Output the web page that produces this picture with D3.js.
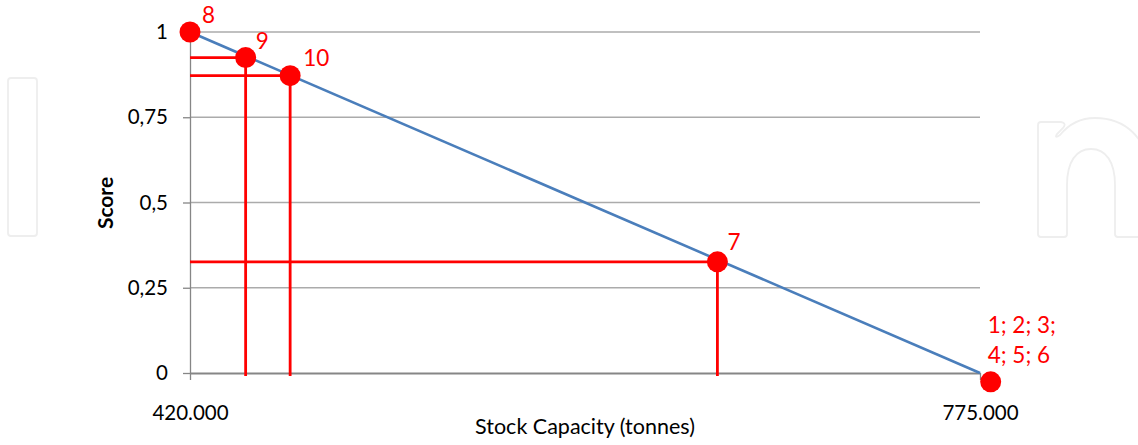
<!DOCTYPE html>
<html>
<head>
<meta charset="utf-8">
<script src="https://cdn.jsdelivr.net/npm/d3@7"></script>
<style>
  body { margin: 0; background: #fff; }
  text { font-family: Lato, "Open Sans", sans-serif; }
</style>
</head>
<body>
<svg id="chart"></svg>
<script>
// values
var capacity = [420000, 445000, 465000, 657000, 779800];
var scores = [1, 0.925, 0.872, 0.326, -0.026];
var pointLabels = [["8"], ["9"], ["10"], ["7"], ["1; 2; 3;", "4; 5; 6"]];
var labelOffsets = [[12, -9], [10, -9], [13, -10], [10, -12], [-3, -49]];
var dropLines = [false, true, true, true, false];

var lineX = [420000, 775000];
var lineY = [1, 0];

var yTicks = [0, 0.25, 0.5, 0.75, 1];
var yTickLabels = ["0", "0,25", "0,5", "0,75", "1"];
var xTicks = [420000, 775000];
var xTickLabels = ["420.000", "775.000"];

var width = 1138;
var height = 445;

var svg = d3.select("#chart").attr("width", width).attr("height", height);

var x = d3.scaleLinear().domain([420000, 775000]).range([190, 980]);
var y = d3.scaleLinear().domain([0, 1]).range([373, 32]);

// faint watermark letters behind the chart
var nPath = "M1041,122 L1061,122 Q1067,123 1063,128 L1057,134 Q1054,139 1060,135 " +
    "C1069,124 1080,118 1095,118 C1125,118 1148,138 1148,172 L1148,237 L1118,237 " +
    "Q1115,237 1115,234 L1115,185 C1115,162 1106,149 1091,149 C1076,149 1067,162 1067,185 " +
    "L1067,234 Q1067,237 1064,237 L1041,237 Q1038,237 1038,234 L1038,125 Q1038,122 1041,122 Z";
var wm = svg.append("g").attr("fill", "none").attr("stroke", "#eeeeee").attr("stroke-width", 1.8);
svg.append("defs").append("clipPath").attr("id", "leftclip")
    .append("rect").attr("x", 0).attr("y", 0).attr("width", 72).attr("height", height);
wm.append("rect").attr("x", 8).attr("y", 78).attr("width", 29).attr("height", 158).attr("rx", 3);
wm.append("path").attr("d", nPath).attr("transform", "translate(-984,0)").attr("clip-path", "url(#leftclip)");
wm.append("path").attr("d", nPath);

// gridlines
svg.append("g")
    .selectAll("line")
    .data(yTicks.filter(function(d) { return d > 0; }))
    .enter().append("line")
    .attr("x1", x(420000)).attr("x2", x(775000))
    .attr("y1", function(d) { return y(d); })
    .attr("y2", function(d) { return y(d); })
    .attr("stroke", "#ababab")
    .attr("stroke-width", 1.3);

// y axis
var yAxis = d3.axisLeft(y)
    .tickValues(yTicks)
    .tickFormat(function(d, i) { return yTickLabels[i]; })
    .tickSizeInner(7).tickSizeOuter(0).tickPadding(15);
var gy = svg.append("g").attr("transform", "translate(" + x(420000) + ",0)").call(yAxis);
gy.select(".domain").attr("stroke", "#868686").attr("stroke-width", 1.3);
gy.selectAll(".tick line").attr("stroke", "#868686").attr("stroke-width", 1.3);
gy.selectAll(".tick text").attr("font-size", 20.5).attr("fill", "#000")
    .style("font-family", "Lato, sans-serif");

// x axis
var xAxis = d3.axisBottom(x)
    .tickValues(xTicks)
    .tickFormat(function(d, i) { return xTickLabels[i]; })
    .tickSizeInner(7).tickSizeOuter(0).tickPadding(25);
var gx = svg.append("g").attr("transform", "translate(0," + y(0) + ")").call(xAxis);
gx.select(".domain").attr("stroke", "#868686").attr("stroke-width", 2);
gx.selectAll(".tick line").attr("stroke", "#868686").attr("stroke-width", 1.3);
gx.selectAll(".tick text").attr("font-size", 20.5).attr("fill", "#000")
    .style("font-family", "Lato, sans-serif");

// axis titles
svg.append("text")
    .attr("transform", "translate(113,203) rotate(-90)")
    .attr("text-anchor", "middle")
    .attr("font-size", 21)
    .attr("font-weight", "bold")
    .text("Score");
svg.append("text")
    .attr("x", 585).attr("y", 434)
    .attr("text-anchor", "middle")
    .attr("font-size", 21.5)
    .text("Stock Capacity (tonnes)");

// score line
var line = d3.line()
    .x(function(d) { return x(d[0]); })
    .y(function(d) { return y(d[1]); });
svg.append("path")
    .datum(d3.zip(lineX, lineY))
    .attr("d", line)
    .attr("fill", "none")
    .attr("stroke", "#4a7ebb")
    .attr("stroke-width", 2.6);

var pts = capacity.map(function(c, i) {
    return { c: c, s: scores[i], label: pointLabels[i], off: labelOffsets[i], drop: dropLines[i] };
});

// red guide lines to the axes
var guides = svg.append("g").attr("stroke", "#ff0000").attr("stroke-width", 2.8);
pts.filter(function(d) { return d.drop; }).forEach(function(d) {
    guides.append("line")
        .attr("x1", x(420000)).attr("x2", x(d.c))
        .attr("y1", y(d.s)).attr("y2", y(d.s));
    guides.append("line")
        .attr("x1", x(d.c)).attr("x2", x(d.c))
        .attr("y1", y(d.s)).attr("y2", y(0) + 3);
});

// points
svg.append("g")
    .selectAll("circle")
    .data(pts)
    .enter().append("circle")
    .attr("cx", function(d) { return x(d.c); })
    .attr("cy", function(d) { return y(d.s); })
    .attr("r", 10.5)
    .attr("fill", "#ff0000");

// point labels
var lab = svg.append("g")
    .selectAll("text")
    .data(pts)
    .enter().append("text")
    .attr("x", function(d) { return x(d.c) + d.off[0]; })
    .attr("y", function(d) { return y(d.s) + d.off[1]; })
    .attr("font-size", 22.5)
    .attr("fill", "#ff0000");
lab.selectAll("tspan")
    .data(function(d) { return d.label.map(function(t) { return { t: t, x: x(d.c) + d.off[0] }; }); })
    .enter().append("tspan")
    .attr("x", function(d) { return d.x; })
    .attr("dy", function(d, i) { return i === 0 ? 0 : 30; })
    .text(function(d) { return d.t; });
</script>
</body>
</html>
